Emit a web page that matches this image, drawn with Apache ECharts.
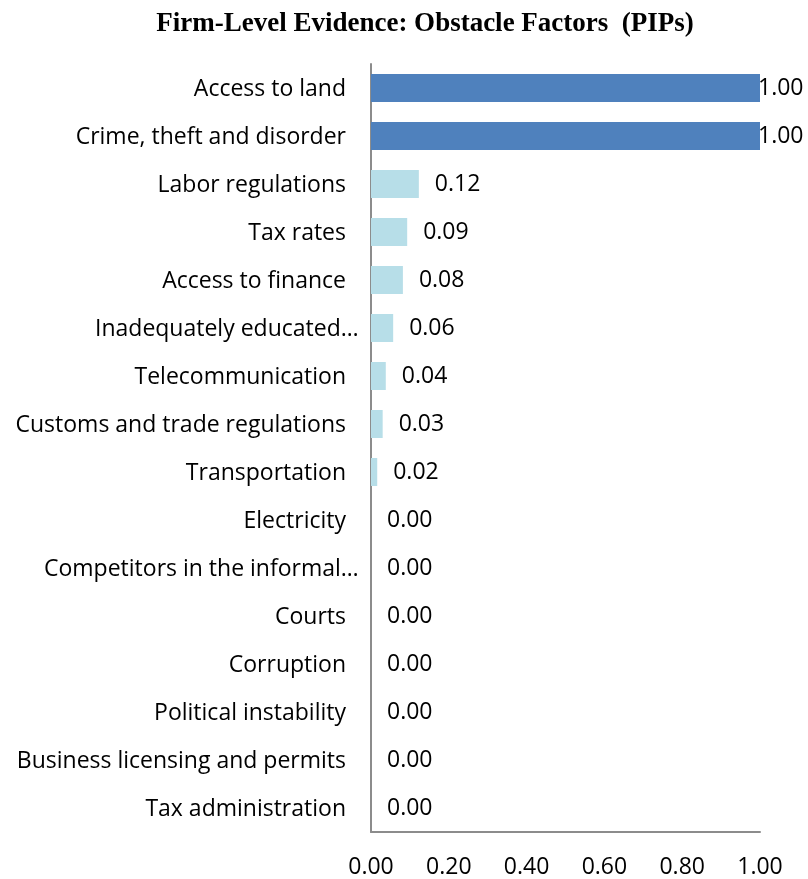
<!DOCTYPE html>
<html>
<head>
<meta charset="utf-8">
<script src="https://cdn.jsdelivr.net/npm/echarts@6/dist/echarts.min.js"></script>
<style>
  html, body { margin: 0; padding: 0; background: #fff; }
  #chart { width: 808px; height: 879px; }
</style>
</head>
<body>
<div id="chart"></div>
<script>
// Obstacle factors, top to bottom, with their posterior inclusion probabilities
const categories = [
  'Access to land',
  'Crime, theft and disorder',
  'Labor regulations',
  'Tax rates',
  'Access to finance',
  'Inadequately educated…',
  'Telecommunication',
  'Customs and trade regulations',
  'Transportation',
  'Electricity',
  'Competitors in the informal…',
  'Courts',
  'Corruption',
  'Political instability',
  'Business licensing and permits',
  'Tax administration'
];
const pipValues = [1.00, 1.00, 0.123, 0.093, 0.082, 0.057, 0.038, 0.030, 0.016, 0, 0, 0, 0, 0, 0, 0];
// Factors that are always included are highlighted
const highlighted = [true, true, false, false, false, false, false, false, false, false, false, false, false, false, false, false];
const xTicks = [0, 0.2, 0.4, 0.6, 0.8, 1.0];

const DARK = '#4F81BD';
const LIGHT = '#B7DEE8';
const FONT = 'Open Sans';
const FS = 23;
const SHIFT = 13; // shortened names run a little past the common right edge

const barData = pipValues.map((v, i) => ({
  value: v,
  itemStyle: { color: highlighted[i] ? DARK : LIGHT },
  label: { distance: highlighted[i] ? -2 : 16 }
}));

// Rich styles for the shortened names: a box narrower than the text, text left-aligned,
// so the text overflows past the right edge by SHIFT pixels.
const measureCtx = document.createElement('canvas').getContext('2d');
measureCtx.font = FS + 'px "' + FONT + '"';
const richStyles = {};
const richKey = {};
categories.forEach((name, i) => {
  if (name.endsWith('…')) {
    const key = 's' + i;
    richKey[name] = key;
    richStyles[key] = {
      width: Math.round(measureCtx.measureText(name).width) - SHIFT,
      align: 'left',
      fontFamily: FONT,
      fontSize: FS,
      color: '#000'
    };
  }
});
function categoryLabel(name) {
  return richKey[name] ? '{' + richKey[name] + '|' + name + '}' : name;
}

const chart = echarts.init(document.getElementById('chart'), null, { renderer: 'canvas' });
chart.setOption({
  animation: false,
  backgroundColor: '#fff',
  title: {
    text: 'Firm-Level Evidence: Obstacle Factors  (PIPs)',
    left: 420,
    top: 6,
    textAlign: 'center',
    textStyle: {
      fontFamily: 'Liberation Serif',
      fontWeight: 'bold',
      fontSize: 27,
      color: '#000'
    }
  },
  grid: { left: 371, right: 48, top: 64, bottom: 47, containLabel: false },
  xAxis: {
    type: 'value',
    min: xTicks[0],
    max: xTicks[xTicks.length - 1],
    interval: 0.2,
    axisLine: { show: true, lineStyle: { color: '#8C8C8C', width: 2 } },
    axisTick: { show: false },
    splitLine: { show: false },
    axisLabel: {
      margin: 24,
      fontFamily: FONT,
      fontSize: FS,
      color: '#000',
      formatter: v => v.toFixed(2)
    }
  },
  yAxis: {
    type: 'category',
    data: categories,
    inverse: true,
    axisLine: { show: true, lineStyle: { color: '#8C8C8C', width: 2 } },
    axisTick: { show: false },
    axisLabel: {
      margin: 25,
      fontFamily: FONT,
      fontSize: FS,
      color: '#000',
      padding: [3, 0, 0, 0],
      formatter: categoryLabel,
      rich: richStyles
    }
  },
  series: [{
    type: 'bar',
    data: barData,
    barWidth: 28,
    label: {
      show: true,
      position: 'right',
      fontFamily: FONT,
      fontSize: FS,
      color: '#000',
      padding: [3, 0, 0, 0],
      formatter: p => p.value.toFixed(2)
    }
  }]
});
</script>
</body>
</html>
